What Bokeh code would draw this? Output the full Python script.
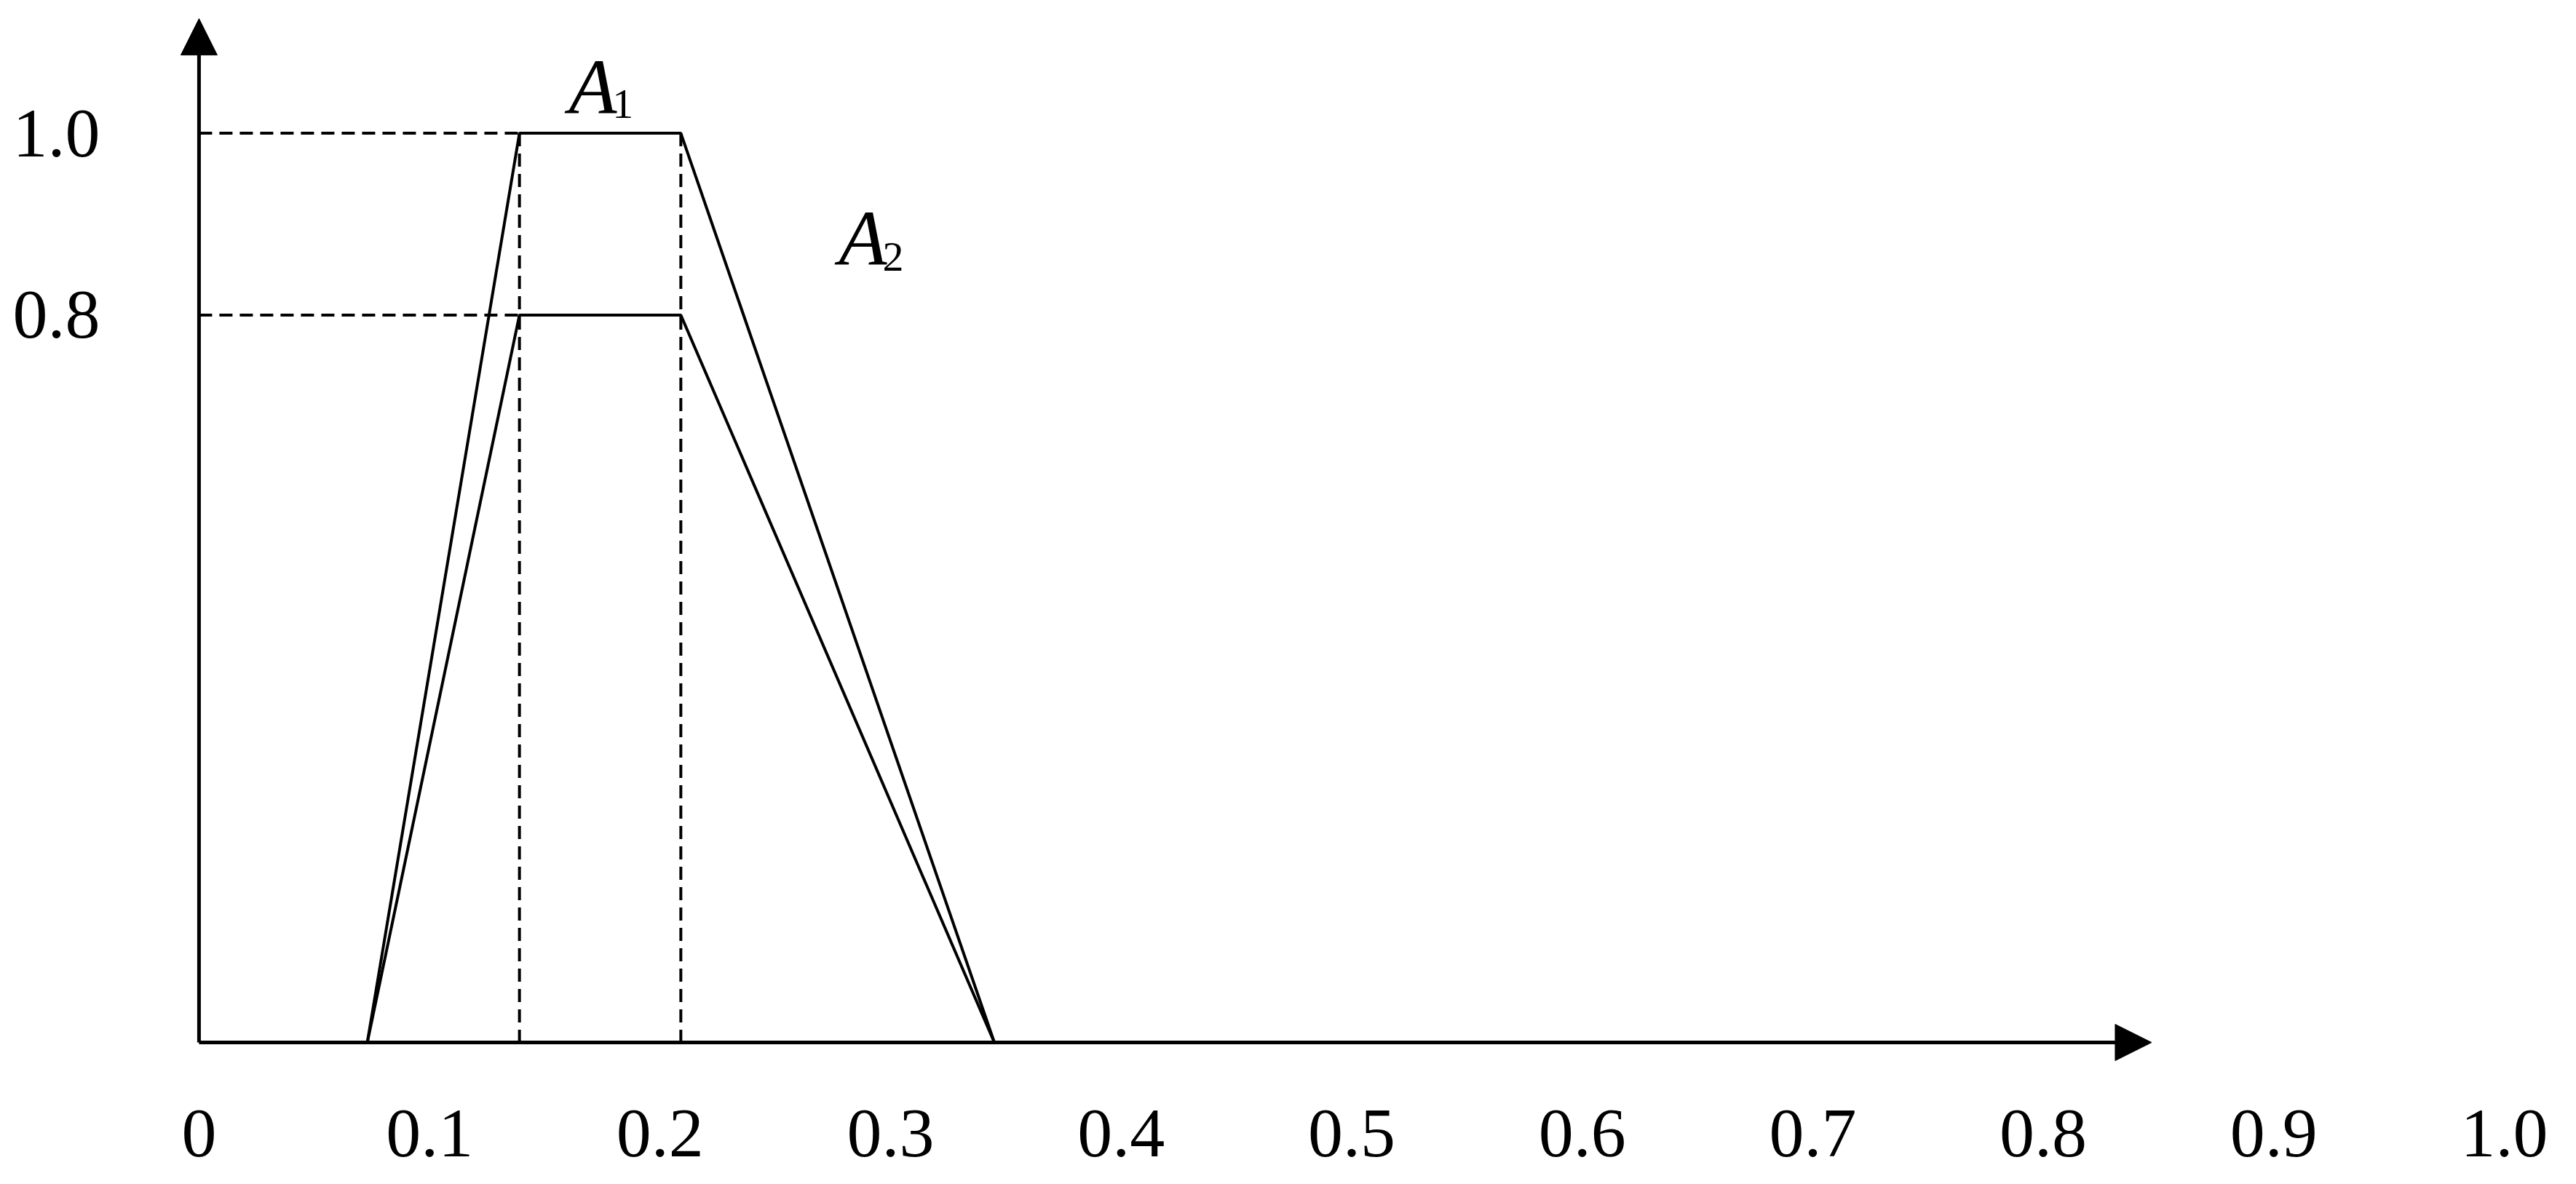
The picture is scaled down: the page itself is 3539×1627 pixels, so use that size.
from bokeh.plotting import figure
from bokeh.models import Range1d, FixedTicker, Arrow, NormalHead
from bokeh.core.properties import value
from bokeh.embed import file_html
from bokeh.resources import INLINE

# ---------------- data ----------------
x_ticks = [0.0, 0.1, 0.2, 0.3, 0.4, 0.5, 0.6, 0.7, 0.8, 0.9, 1.0]
x_tick_labels = ["0", "0.1", "0.2", "0.3", "0.4", "0.5", "0.6", "0.7", "0.8", "0.9", "1.0"]
y_ticks = [0.8, 1.0]
y_tick_labels = ["0.8", "1.0"]

# trapezoidal fuzzy numbers A1 and A2 share the same corner abscissae
trap_x = [0.073, 0.139, 0.209, 0.345]
a1_y = [0.0, 1.0, 1.0, 0.0]
a2_y = [0.0, 0.8, 0.8, 0.0]
heights = [1.0, 0.8]
names = ["A", "A"]
subscripts = ["1", "2"]

# extent of the drawn axis arrows
x_axis_end = 0.847
y_axis_end = 1.126

# ---------------- figure ----------------
p = figure(width=3523, height=1611,
           x_range=Range1d(-0.0205, 1.0262), y_range=Range1d(-0.0224, 1.1461),
           output_backend="svg", toolbar_location=None,
           min_border_left=208, min_border_right=0, min_border_top=0, min_border_bottom=151)
p.grid.visible = False
p.outline_line_color = None
p.background_fill_color = "white"
p.border_fill_color = "white"

for ax in (p.xaxis, p.yaxis):
    ax.axis_line_color = None
    ax.major_tick_line_color = None
    ax.minor_tick_line_color = None
    ax.major_tick_out = 0
    ax.major_tick_in = 0
    ax.major_label_text_font = "Liberation Serif"
    ax.major_label_text_font_size = "96px"
    ax.major_label_text_color = "black"

p.xaxis.ticker = FixedTicker(ticks=x_ticks)
p.xaxis.major_label_overrides = {t: l for t, l in zip(x_ticks, x_tick_labels)}
p.xaxis.major_label_standoff = 65
p.yaxis.ticker = FixedTicker(ticks=y_ticks)
p.yaxis.major_label_overrides = {t: l for t, l in zip(y_ticks, y_tick_labels)}
p.yaxis.major_label_standoff = 71

# dashed guide lines
dash = "18 10"
for h in heights:
    p.line([0, trap_x[1]], [h, h], line_color="black", line_width=4, line_dash=dash)
top = max(heights)
for xv in (trap_x[1], trap_x[2]):
    p.line([xv, xv], [top, 0.0], line_color="black", line_width=4, line_dash=dash)

# trapezoids
p.line(trap_x, a1_y, line_color="black", line_width=4)
p.line(trap_x, a2_y, line_color="black", line_width=4)

# axes with arrow heads
p.add_layout(Arrow(end=NormalHead(size=50, fill_color="black", line_color="black", line_width=1),
                   x_start=0, y_start=0, x_end=x_axis_end, y_end=0,
                   line_color="black", line_width=5))
p.add_layout(Arrow(end=NormalHead(size=50, fill_color="black", line_color="black", line_width=1),
                   x_start=0, y_start=0, x_end=0, y_end=y_axis_end,
                   line_color="black", line_width=5))

# series labels A1, A2
p.text(x=[0.1604, 0.2776], y=[1.0508, 0.8844], text=names,
       text_font=value("Liberation Serif"), text_font_style="italic",
       text_font_size="108px", text_baseline="alphabetic", text_align="left",
       text_color="black")
p.text(x=[0.1793, 0.2965], y=[1.0324, 0.8643], text=subscripts,
       text_font=value("Liberation Serif"), text_font_size="58px",
       text_baseline="alphabetic", text_align="left", text_color="black")

open("out.html", "w").write(file_html(p, INLINE))
